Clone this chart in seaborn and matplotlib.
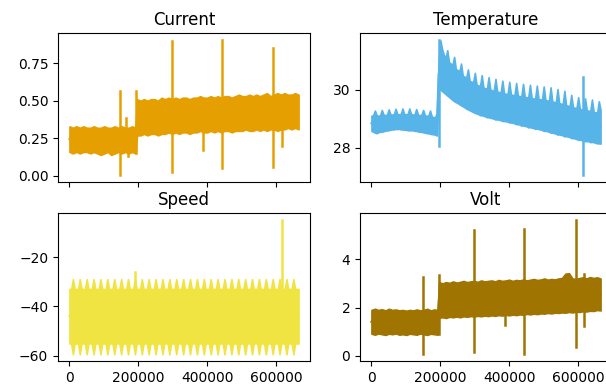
import numpy as np
import pandas as pd
import matplotlib
matplotlib.use("Agg")
import matplotlib.pyplot as plt
import seaborn as sns

# ---------------- data ----------------
# sample-index grids at which the envelope of each signal was read
coarse_index = np.concatenate([np.linspace(0, 192000, 20),
                               np.linspace(196000, 665000, 47)])   # ~10000 apart
fine_index = np.linspace(0, 665000, 134)                           # ~5000 apart

current_low = [0.16, 0.15, 0.16, 0.15, 0.16, 0.16, 0.15, 0.16, 0.15, 0.14,
               0.15, 0.16, 0.14, 0.15, 0.16, 0.15, 0.16, 0.15, 0.16, 0.15,
               0.27, 0.27, 0.28, 0.27, 0.28, 0.28, 0.27, 0.28, 0.28, 0.29,
               0.28, 0.29, 0.28, 0.29, 0.29, 0.28, 0.29, 0.29, 0.30, 0.29,
               0.29, 0.30, 0.29, 0.30, 0.29, 0.30, 0.30, 0.29, 0.30, 0.30,
               0.30, 0.31, 0.30, 0.30, 0.31, 0.30, 0.31, 0.30, 0.31, 0.31,
               0.30, 0.31, 0.31, 0.32, 0.31, 0.32, 0.31]
current_high = [0.33, 0.32, 0.33, 0.32, 0.33, 0.32, 0.32, 0.33, 0.32, 0.32,
                0.33, 0.32, 0.32, 0.33, 0.32, 0.33, 0.32, 0.32, 0.33, 0.32,
                0.51, 0.50, 0.51, 0.50, 0.51, 0.51, 0.50, 0.52, 0.51, 0.52,
                0.51, 0.52, 0.51, 0.52, 0.52, 0.51, 0.52, 0.52, 0.53, 0.52,
                0.52, 0.53, 0.52, 0.53, 0.52, 0.53, 0.53, 0.52, 0.53, 0.54,
                0.53, 0.53, 0.54, 0.53, 0.54, 0.53, 0.54, 0.55, 0.53, 0.54,
                0.55, 0.54, 0.55, 0.54, 0.54, 0.55, 0.54]
current_spike_x = [148000, 163000, 171000, 194000, 297000, 389000, 443000, 592000, 617000]
current_spike_lo = [0.005, 0.25, 0.13, 0.15, 0.025, 0.17, 0.05, 0.062, 0.20]
current_spike_hi = [0.565, 0.385, 0.30, 0.565, 0.90, 0.35, 0.905, 0.85, 0.35]
current_yticks = [0.0, 0.25, 0.5, 0.75]

temperature_low = [
    28.58, 28.55, 28.52, 28.50, 28.53, 28.55, 28.55, 28.57, 28.58, 28.60,
    28.60, 28.62, 28.63, 28.63, 28.65, 28.64, 28.65, 28.63, 28.63, 28.62,
    28.62, 28.60, 28.60, 28.60, 28.60, 28.58, 28.58, 28.56, 28.55, 28.55,
    28.53, 28.52, 28.50, 28.50, 28.48, 28.47, 28.46, 28.45, 28.42,
    30.05, 30.00, 29.95, 29.90, 29.85, 29.80, 29.75, 29.70, 29.65, 29.60,
    29.57, 29.54, 29.50, 29.46, 29.43, 29.39, 29.35, 29.32, 29.29, 29.26,
    29.23, 29.20, 29.18, 29.16, 29.12, 29.12, 29.10, 29.08, 29.05, 29.05,
    29.03, 29.02, 29.00, 28.97, 28.98, 28.96, 28.95, 28.92, 28.92, 28.91,
    28.90, 28.87, 28.87, 28.86, 28.84, 28.81, 28.81, 28.80, 28.76, 28.77,
    28.75, 28.74, 28.70, 28.71, 28.69, 28.68, 28.65, 28.66, 28.64, 28.63,
    28.61, 28.58, 28.58, 28.57, 28.55, 28.52, 28.52, 28.50, 28.49, 28.45,
    28.46, 28.44, 28.43, 28.39, 28.40, 28.38, 28.37, 28.33, 28.33, 28.32,
    28.30, 28.27, 28.28, 28.26, 28.25, 28.22, 28.23, 28.22, 28.19, 28.20,
    28.19, 28.17, 28.15, 28.15, 28.14]
temperature_high = [
    29.10, 29.12, 29.28, 29.12, 29.10, 29.12, 29.30, 29.14, 29.12, 29.14,
    29.32, 29.15, 29.14, 29.15, 29.34, 29.16, 29.15, 29.16, 29.35, 29.16,
    29.15, 29.16, 29.35, 29.16, 29.14, 29.15, 29.33, 29.14, 29.12, 29.13,
    29.30, 29.12, 29.10, 29.10, 29.28, 29.08, 29.05, 29.05, 29.22,
    31.00,
    31.70, 31.40, 31.20, 31.10,
    31.36, 30.95, 30.90, 30.85,
    31.13, 30.70, 30.68, 30.62,
    30.90, 30.48, 30.45, 30.40,
    30.70, 30.30, 30.28, 30.24,
    30.58, 30.17, 30.15, 30.12,
    30.50, 30.07, 30.05, 30.02,
    30.43, 30.00, 29.98, 29.96,
    30.37, 29.93, 29.92, 29.90,
    30.31, 29.87, 29.86, 29.84,
    30.27, 29.83, 29.82, 29.80,
    30.23, 29.79, 29.78, 29.76,
    30.20, 29.75, 29.74, 29.72,
    30.17, 29.71, 29.70, 29.68,
    30.14, 29.68, 29.67, 29.65,
    30.11, 29.64, 29.63, 29.61,
    30.08, 29.59, 29.58, 29.55,
    30.02, 29.53, 29.52, 29.48,
    29.96, 29.46, 29.45, 29.41,
    29.82, 29.39, 29.38, 29.35,
    29.74, 29.33, 29.32, 29.30,
    29.70, 29.29, 29.28, 29.25,
    29.66, 29.23, 29.22, 29.20,
    29.60, 29.30]
temperature_spike_x = [195000, 615000]
temperature_spike_lo = [28.07, 27.05]
temperature_spike_hi = [31.72, 30.45]

speed_low = [
    -55.1, -55.1, -59.5, -55.1, -55.1, -55.1, -59.5, -55.1,
    -55.1, -55.1, -59.5, -55.1, -55.1, -55.1, -59.5, -55.1,
    -55.1, -55.1, -59.5, -55.1, -55.1, -55.1, -59.5, -55.1,
    -55.1, -55.1, -59.5, -55.1, -55.1, -55.1, -59.5, -55.1,
    -55.1, -55.1, -59.5, -55.1, -55.1, -55.1, -59.5, -55.1,
    -55.1, -55.1, -59.5, -55.1, -55.1, -55.1, -59.5, -55.1,
    -55.1, -55.1, -59.5, -55.1, -55.1, -55.1, -59.5, -55.1,
    -55.1, -55.1, -59.5, -55.1, -55.1, -55.1, -59.5, -55.1,
    -55.1, -55.1, -59.5, -55.1, -55.1, -55.1, -59.5, -55.1,
    -55.1, -55.1, -59.5, -55.1, -55.1, -55.1, -59.5, -55.1,
    -55.1, -55.1, -59.5, -55.1, -55.1, -55.1, -59.5, -55.1,
    -55.1, -55.1, -59.5, -55.1, -55.1, -55.1, -59.5, -55.1,
    -55.1, -55.1, -59.5, -55.1, -55.1, -55.1, -59.5, -55.1,
    -55.1, -55.1, -59.5, -55.1, -55.1, -55.1, -59.5, -55.1,
    -55.1, -55.1, -59.5, -55.1, -55.1, -55.1, -59.5, -55.1,
    -55.1, -55.1, -59.5, -55.1, -55.1, -55.1, -59.5, -55.1,
    -55.1, -55.1, -59.5, -55.1, -55.1, -55.1]
speed_high = [
    -32.9, -32.9, -28.9, -32.9, -32.9, -32.9, -28.9, -32.9,
    -32.9, -32.9, -28.9, -32.9, -32.9, -32.9, -28.9, -32.9,
    -32.9, -32.9, -28.9, -32.9, -32.9, -32.9, -28.9, -32.9,
    -32.9, -32.9, -28.9, -32.9, -32.9, -32.9, -28.9, -32.9,
    -32.9, -32.9, -28.9, -32.9, -32.9, -32.9, -28.9, -32.9,
    -32.9, -32.9, -28.9, -32.9, -32.9, -32.9, -28.9, -32.9,
    -32.9, -32.9, -28.9, -32.9, -32.9, -32.9, -28.9, -32.9,
    -32.9, -32.9, -28.9, -32.9, -32.9, -32.9, -28.9, -32.9,
    -32.9, -32.9, -28.9, -32.9, -32.9, -32.9, -28.9, -32.9,
    -32.9, -32.9, -28.9, -32.9, -32.9, -32.9, -28.9, -32.9,
    -32.9, -32.9, -28.9, -32.9, -32.9, -32.9, -28.9, -32.9,
    -32.9, -32.9, -28.9, -32.9, -32.9, -32.9, -28.9, -32.9,
    -32.9, -32.9, -28.9, -32.9, -32.9, -32.9, -28.9, -32.9,
    -32.9, -32.9, -28.9, -32.9, -32.9, -32.9, -28.9, -32.9,
    -32.9, -32.9, -28.9, -32.9, -32.9, -32.9, -28.9, -32.9,
    -32.9, -32.9, -28.9, -32.9, -32.9, -32.9, -28.9, -32.9,
    -32.9, -32.9, -28.9, -32.9, -32.9, -32.9]
speed_spike_x = [191000, 616000]
speed_spike_lo = [-45.0, -45.0]
speed_spike_hi = [-26.0, -4.7]

volt_low = [0.92, 0.88, 0.93, 0.90, 0.87, 0.92, 0.90, 0.93, 0.88, 0.90,
            0.87, 0.92, 0.90, 0.88, 0.93, 0.90, 0.87, 0.92, 0.90, 0.88,
            1.58, 1.60, 1.57, 1.62, 1.60, 1.63, 1.60, 1.64, 1.62, 1.65,
            1.63, 1.66, 1.64, 1.67, 1.65, 1.68, 1.66, 1.69, 1.67, 1.70,
            1.68, 1.71, 1.69, 1.72, 1.70, 1.74, 1.72, 1.75, 1.73, 1.76,
            1.75, 1.78, 1.76, 1.79, 1.78, 1.80, 1.79, 1.82, 1.80, 1.83,
            1.82, 1.85, 1.84, 1.87, 1.86, 1.90, 1.88]
volt_high = [1.90, 1.95, 1.90, 1.93, 1.88, 1.95, 1.90, 1.92, 1.88, 1.90,
             1.87, 1.90, 1.88, 1.92, 1.88, 1.90, 1.95, 1.88, 1.92, 1.90,
             3.05, 3.00, 3.05, 3.02, 3.08, 3.03, 3.06, 3.10, 3.05, 3.08,
             3.10, 3.06, 3.12, 3.08, 3.10, 3.12, 3.08, 3.14, 3.10, 3.12,
             3.15, 3.10, 3.14, 3.12, 3.16, 3.12, 3.15, 3.18, 3.14, 3.16,
             3.20, 3.15, 3.18, 3.16, 3.20, 3.22, 3.40, 3.42, 3.20, 3.18,
             3.22, 3.25, 3.20, 3.26, 3.22, 3.25, 3.20]
volt_spike_x = [149000, 195000, 298000, 389000, 444000, 595000, 617000]
volt_spike_lo = [0.07, 0.90, 0.16, 1.26, 0.10, 0.37, 1.22]
volt_spike_hi = [3.28, 3.35, 5.22, 2.50, 5.26, 5.63, 3.40]

titles = ["Current", "Temperature", "Speed", "Volt"]
colors = ["#E69F00", "#56B4E9", "#F0E442", "#A07400"]

series = [
    (coarse_index, current_low, current_high, current_spike_x, current_spike_lo, current_spike_hi),
    (fine_index, temperature_low, temperature_high, temperature_spike_x, temperature_spike_lo, temperature_spike_hi),
    (fine_index, speed_low, speed_high, speed_spike_x, speed_spike_lo, speed_spike_hi),
    (coarse_index, volt_low, volt_high, volt_spike_x, volt_spike_lo, volt_spike_hi),
]

# ---------------- figure ----------------
plt.rcParams["font.family"] = ["DejaVu Sans"]
W, H = 606, 388
fig = plt.figure(figsize=(W / 100, H / 100), dpi=100)

def box(l, t, r, b):
    return [l / W, 1 - b / H, (r - l) / W, (b - t) / H]

ax_tl = fig.add_axes(box(58, 33, 310, 182))
ax_tr = fig.add_axes(box(360, 33, 612, 182))
ax_bl = fig.add_axes(box(58, 213, 310, 361), sharex=ax_tl)
ax_br = fig.add_axes(box(360, 213, 612, 361), sharex=ax_tr)
axes = [ax_tl, ax_tr, ax_bl, ax_br]

for ax, title, color, (xs, lo, hi, sx, slo, shi) in zip(axes, titles, colors, series):
    if len(lo) != len(xs) or len(hi) != len(xs):
        raise ValueError(f"{title}: {len(xs)} {len(lo)} {len(hi)}")
    band = pd.DataFrame({
        "x": np.concatenate([xs, xs]),
        "y": np.concatenate([lo, hi]),
    })
    sns.lineplot(data=band, x="x", y="y", ax=ax, color=color,
                 estimator="mean", errorbar=lambda v: (v.min(), v.max()),
                 err_kws=dict(alpha=1, linewidth=1.2, edgecolor=color),
                 linewidth=1.5)
    spikes = pd.DataFrame({
        "id": list(range(len(sx))) * 2,
        "x": list(sx) * 2,
        "y": list(slo) + list(shi),
    })
    sns.lineplot(data=spikes, x="x", y="y", units="id", estimator=None,
                 ax=ax, color=color, linewidth=1.8)
    ax.set_title(title, fontsize=12)
    ax.set_xlabel("")
    ax.set_ylabel("")

ax_tl.set_yticks(current_yticks)

for ax in (ax_tl, ax_tr):
    ax.tick_params(labelbottom=False)

fig.savefig("out.png", dpi=100)
